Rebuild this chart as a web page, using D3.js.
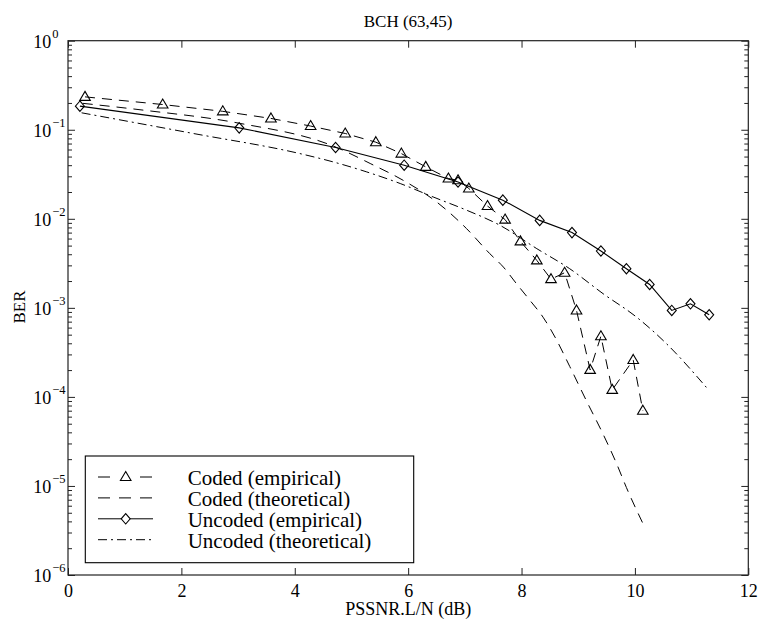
<!DOCTYPE html>
<html>
<head>
<meta charset="utf-8">
<script src="https://cdn.jsdelivr.net/npm/d3@7"></script>
<style>
  body { margin: 0; background: #fff; }
  svg text { font-family: "Liberation Serif", "Times New Roman", serif; fill: #000; }
  .tick line { stroke: #222; }
</style>
</head>
<body>
<svg width="759" height="619"></svg>
<script>
// data
var codedEmpX = [0.30, 1.67, 2.73, 3.58, 4.28, 4.89, 5.43, 5.88, 6.31, 6.71, 6.88, 7.07, 7.40, 7.71, 7.98, 8.27, 8.52, 8.76, 8.97, 9.21, 9.40, 9.60, 9.97, 10.14];
var codedEmpBER = [0.234, 0.192, 0.161, 0.134, 0.110, 0.0908, 0.0725, 0.054, 0.0383, 0.0283, 0.0271, 0.0219, 0.0139, 0.0098, 0.00558, 0.00341, 0.0021, 0.00248, 0.000935, 0.000201, 0.00048, 0.00012, 0.00026, 0.00007];

var codedTheoX = [0.26, 1.33, 3.0, 4.71, 5.33, 5.91, 6.50, 7.03, 7.44, 7.68, 7.91, 8.15, 8.38, 8.59, 8.85, 9.15, 9.44, 9.68, 9.85, 10.14];
var codedTheoBER = [0.198, 0.166, 0.119, 0.0644, 0.0418, 0.0271, 0.0155, 0.00776, 0.00406, 0.00287, 0.00187, 0.00121, 7.85e-4, 4.7e-4, 2.2e-4, 8.9e-5, 3.8e-5, 1.76e-5, 9.6e-6, 3.8e-6];

var uncodedEmpX = [0.21, 3.02, 4.72, 5.93, 6.88, 7.67, 8.32, 8.89, 9.40, 9.85, 10.26, 10.65, 10.98, 11.31];
var uncodedEmpBER = [0.184, 0.105, 0.0632, 0.040, 0.0259, 0.0162, 0.0096, 0.0070, 0.00435, 0.00275, 0.00183, 0.000935, 0.00111, 0.000836];

var uncodedTheoX = [0.24, 2.21, 4.09, 4.68, 5.27, 5.86, 6.44, 7.03, 7.62, 8.27, 8.85, 9.44, 10.03, 10.56, 11.26];
var uncodedTheoBER = [0.155, 0.0908, 0.054, 0.0435, 0.0336, 0.0249, 0.0176, 0.0125, 0.00845, 0.00462, 0.00275, 0.00144, 7.86e-4, 3.94e-4, 1.28e-4];

var xTicks = [0, 2, 4, 6, 8, 10, 12];
var yExps = [0, -1, -2, -3, -4, -5, -6];
var legendLabels = ["Coded (empirical)", "Coded (theoretical)", "Uncoded (empirical)", "Uncoded (theoretical)"];

var svg = d3.select("svg");
var pLeft = 68, pRight = 748.3, pTop = 40.7, pBottom = 575;

var x = d3.scaleLinear().domain([0, 12]).range([pLeft, pRight]);
var y = d3.scaleLog().domain([1e-6, 1]).range([pBottom, pTop]);

var majors = yExps.map(function(e) { return Math.pow(10, e); });
var minors = [];
yExps.slice(1).forEach(function(e) {
  for (var k = 2; k <= 9; k++) minors.push(k * Math.pow(10, e));
});

function noDomain(g) { g.select(".domain").remove(); }

// axes (ticks pointing inward)
svg.append("g").attr("transform", "translate(0," + pBottom + ")")
  .call(d3.axisBottom(x).tickValues(xTicks).tickSizeInner(-7).tickSizeOuter(0).tickPadding(9)
    .tickFormat(d3.format("d")))
  .call(noDomain)
  .call(function(g) {
    g.selectAll("text").attr("font-size", "18px").attr("font-family", "Liberation Serif");
  });
svg.append("g").attr("transform", "translate(0," + pTop + ")")
  .call(d3.axisTop(x).tickValues(xTicks).tickSizeInner(-7).tickSizeOuter(0).tickFormat(""))
  .call(noDomain);

var yAxisL = svg.append("g").attr("transform", "translate(" + pLeft + ",0)")
  .call(d3.axisLeft(y).tickValues(majors).tickSizeInner(-7).tickSizeOuter(0).tickFormat(""))
  .call(noDomain);
yAxisL.selectAll(".tick").each(function(d) {
  var e = Math.round(Math.log10(d));
  var t = d3.select(this).append("text")
    .attr("x", -34.7).attr("y", 6.8)
    .attr("text-anchor", "start")
    .attr("font-size", "18px")
    .attr("font-family", "Liberation Serif");
  t.append("tspan").text("10");
  t.append("tspan").attr("dy", -10.5).attr("dx", 1).attr("font-size", "12.5px")
    .text(e < 0 ? "\u2212" + (-e) : String(e));
});
svg.append("g").attr("transform", "translate(" + pLeft + ",0)")
  .call(d3.axisLeft(y).tickValues(minors).tickSizeInner(-4).tickSizeOuter(0).tickFormat(""))
  .call(noDomain);
svg.append("g").attr("transform", "translate(" + pRight + ",0)")
  .call(d3.axisRight(y).tickValues(majors).tickSizeInner(-7).tickSizeOuter(0).tickFormat(""))
  .call(noDomain);
svg.append("g").attr("transform", "translate(" + pRight + ",0)")
  .call(d3.axisRight(y).tickValues(minors).tickSizeInner(-4).tickSizeOuter(0).tickFormat(""))
  .call(noDomain);

svg.append("rect")
  .attr("x", pLeft).attr("y", pTop)
  .attr("width", pRight - pLeft).attr("height", pBottom - pTop)
  .attr("fill", "none").attr("stroke", "#222").attr("stroke-width", 1.2);

// labels
svg.append("text").attr("x", (pLeft + pRight) / 2).attr("y", 27)
  .attr("text-anchor", "middle").attr("font-size", "17px").text("BCH (63,45)");
svg.append("text").attr("x", (pLeft + pRight) / 2).attr("y", 615)
  .attr("text-anchor", "middle").attr("font-size", "18px").text("PSSNR.L/N (dB)");
svg.append("text").attr("transform", "translate(24.5,307) rotate(-90)")
  .attr("text-anchor", "middle").attr("font-size", "17px").text("BER");

// series
function pts(xs, ys) { return xs.map(function(v, i) { return [v, ys[i]]; }); }
var straight = d3.line().x(function(d) { return x(d[0]); }).y(function(d) { return y(d[1]); });
var smooth = d3.line().curve(d3.curveMonotoneX).x(function(d) { return x(d[0]); }).y(function(d) { return y(d[1]); });

var dash = "10,7", dashDot = "9,4,2,4";

var plot = svg.append("g");
plot.append("path").datum(pts(uncodedTheoX, uncodedTheoBER)).attr("d", smooth)
  .attr("fill", "none").attr("stroke", "#000").attr("stroke-width", 1).attr("stroke-dasharray", dashDot);
plot.append("path").datum(pts(codedTheoX, codedTheoBER)).attr("d", smooth)
  .attr("fill", "none").attr("stroke", "#000").attr("stroke-width", 1).attr("stroke-dasharray", dash);
plot.append("path").datum(pts(uncodedEmpX, uncodedEmpBER)).attr("d", straight)
  .attr("fill", "none").attr("stroke", "#000").attr("stroke-width", 1.1);
plot.append("path").datum(pts(codedEmpX, codedEmpBER)).attr("d", straight)
  .attr("fill", "none").attr("stroke", "#000").attr("stroke-width", 1).attr("stroke-dasharray", dash);

var tri = "M0,-5.5L5.3,3.5L-5.3,3.5Z";
var dia = "M0,-5.2L4.5,0L0,5.2L-4.5,0Z";

plot.selectAll(".tri").data(pts(codedEmpX, codedEmpBER)).enter().append("path")
  .attr("class", "tri").attr("d", tri)
  .attr("transform", function(d) { return "translate(" + x(d[0]) + "," + y(d[1]) + ")"; })
  .attr("fill", "none").attr("stroke", "#000").attr("stroke-width", 1.1);
plot.selectAll(".dia").data(pts(uncodedEmpX, uncodedEmpBER)).enter().append("path")
  .attr("class", "dia").attr("d", dia)
  .attr("transform", function(d) { return "translate(" + x(d[0]) + "," + y(d[1]) + ")"; })
  .attr("fill", "none").attr("stroke", "#000").attr("stroke-width", 1.1);

// legend
var lg = svg.append("g");
lg.append("rect").attr("x", 85.3).attr("y", 456).attr("width", 328.4).attr("height", 106.7)
  .attr("fill", "#fff").attr("stroke", "#000").attr("stroke-width", 1.1);
var styles = [
  { dash: "12,30", marker: tri },
  { dash: "12,9", marker: null },
  { dash: null, marker: dia },
  { dash: dashDot, marker: null }
];
legendLabels.forEach(function(lab, i) {
  var base = 485 + i * 20.9, ly = base - 8;
  var ln = lg.append("line").attr("x1", 98).attr("x2", 153).attr("y1", ly).attr("y2", ly)
    .attr("stroke", "#000").attr("stroke-width", 1);
  if (styles[i].dash) ln.attr("stroke-dasharray", styles[i].dash);
  if (styles[i].marker) {
    lg.append("path").attr("d", styles[i].marker)
      .attr("transform", "translate(125.7," + ly + ")")
      .attr("fill", "#fff").attr("stroke", "#000").attr("stroke-width", 1.1);
  }
  lg.append("text").attr("x", 187.7).attr("y", base).attr("font-size", "21px").text(lab);
});
</script>
</body>
</html>
